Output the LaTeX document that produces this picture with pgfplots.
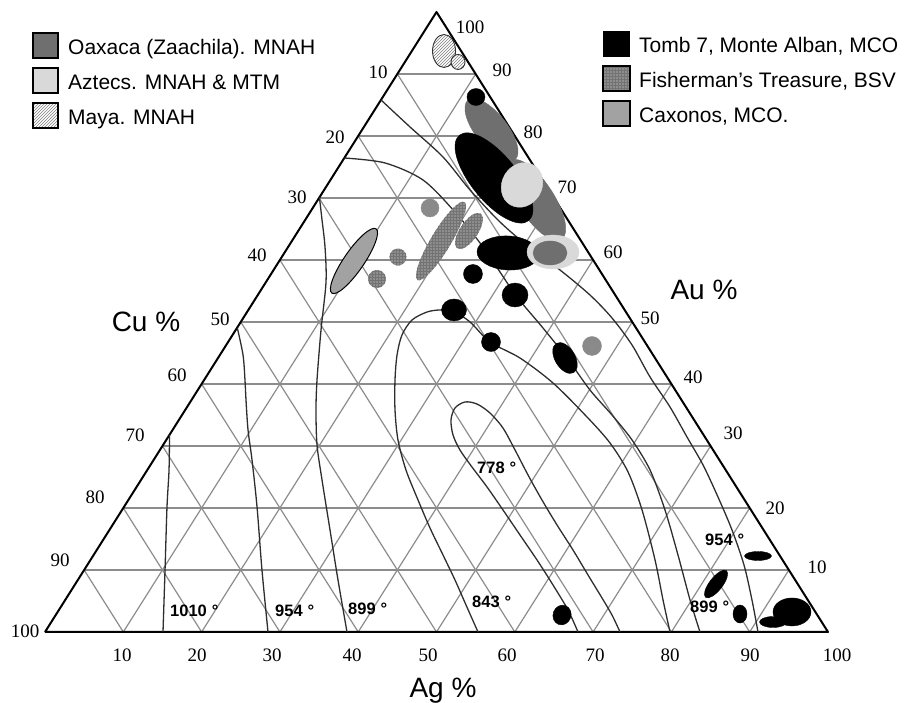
\documentclass[border=0pt]{standalone}
\usepackage{fontspec}
\setmainfont{Liberation Sans}
\newfontfamily\numfont{Liberation Serif}
\usepackage{pgfplots}
\pgfplotsset{compat=1.18}
\usetikzlibrary{patterns}

\definecolor{oaxaca}{HTML}{6F6F6F}
\definecolor{aztec}{HTML}{D9D9D9}
\definecolor{fisher}{HTML}{8E8E8E}
\definecolor{caxonos}{HTML}{A2A2A2}
\definecolor{gridgray}{HTML}{8C8C8C}
\definecolor{curve}{HTML}{2E2E2E}

\newcommand\legfont{\fontsize{21}{24}\selectfont}
\newcommand\tickfont{\numfont\fontsize{19}{21}\selectfont}
\newcommand\titfont{\fontsize{28}{30}\selectfont}
\newcommand\isofont{\bfseries\fontsize{16.5}{18}\selectfont}

\pgfdeclareplotmark{mayamark}{%
  \pgfpathcircle{\pgfpointorigin}{\pgfplotmarksize}%
  \pgfsetfillcolor{white}\pgfusepathqfill
  \begin{pgfscope}\pgfsetfillpattern{north east lines}{gray}%
  \pgfpathcircle{\pgfpointorigin}{\pgfplotmarksize}\pgfusepathqfill\end{pgfscope}%
  \pgfsetlinewidth{0.9pt}\pgfsetstrokecolor{black!80}%
  \pgfpathcircle{\pgfpointorigin}{\pgfplotmarksize}\pgfusepathqstroke}
\pgfdeclareplotmark{fishmark}{%
  \pgfpathcircle{\pgfpointorigin}{\pgfplotmarksize}%
  \pgfsetfillcolor{fisher}\pgfusepathqfill
  \begin{pgfscope}\pgfsetfillpattern{grid}{black!55}%
  \pgfpathcircle{\pgfpointorigin}{\pgfplotmarksize}\pgfusepathqfill\end{pgfscope}}

\pgfplotsset{
  gridline/.style={gridgray, line width=1.2pt, mark=none},
  iso/.style={curve, line width=1.3pt, mark=none, smooth, tension=0.5},
  blob/.style={only marks, mark=*, mark size=1pt},
}

\begin{document}
\begin{tikzpicture}
\begin{axis}[name=ax, scale only axis, width=913pt, height=703pt,
  xmin=-5.747, xmax=110.855, ymin=-11.452, ymax=101.935, hide axis, clip=false]
% grid: constant Au
\addplot[gridline] coordinates {(5,10)(95,10)};
\addplot[gridline] coordinates {(10,20)(90,20)};
\addplot[gridline] coordinates {(15,30)(85,30)};
\addplot[gridline] coordinates {(20,40)(80,40)};
\addplot[gridline] coordinates {(25,50)(75,50)};
\addplot[gridline] coordinates {(30,60)(70,60)};
\addplot[gridline] coordinates {(35,70)(65,70)};
\addplot[gridline] coordinates {(40,80)(60,80)};
\addplot[gridline] coordinates {(45,90)(55,90)};
% grid: constant Ag
\addplot[gridline] coordinates {(10,0)(55,90)};
\addplot[gridline] coordinates {(20,0)(60,80)};
\addplot[gridline] coordinates {(30,0)(65,70)};
\addplot[gridline] coordinates {(40,0)(70,60)};
\addplot[gridline] coordinates {(50,0)(75,50)};
\addplot[gridline] coordinates {(60,0)(80,40)};
\addplot[gridline] coordinates {(70,0)(85,30)};
\addplot[gridline] coordinates {(80,0)(90,20)};
\addplot[gridline] coordinates {(90,0)(95,10)};
% grid: constant Cu
\addplot[gridline] coordinates {(10,0)(5,10)};
\addplot[gridline] coordinates {(20,0)(10,20)};
\addplot[gridline] coordinates {(30,0)(15,30)};
\addplot[gridline] coordinates {(40,0)(20,40)};
\addplot[gridline] coordinates {(50,0)(25,50)};
\addplot[gridline] coordinates {(60,0)(30,60)};
\addplot[gridline] coordinates {(70,0)(35,70)};
\addplot[gridline] coordinates {(80,0)(40,80)};
\addplot[gridline] coordinates {(90,0)(45,90)};
% triangle
\addplot[black, line width=2pt, mark=none, line join=round] coordinates {(0,0)(100,0)(50,100)(0,0)};

% isotherms
\addplot[iso] coordinates {(15.07,0)(15.33,10)(15.58,20.16)(15.84,26.13)(15.9,31.8)};
\addplot[iso] coordinates {(28.48,0)(27.71,10)(27.08,20.16)(26.44,27.74)(25.93,32.58)(25.67,37.42)(25.54,40.65)(25.29,44.68)(24.55,49.1)};
\addplot[iso] coordinates {(38.57,0)(37.42,8.39)(36.40,16.45)(35.38,24.52)(34.74,30.16)(34.61,35.81)(34.74,40.65)(35.25,48.71)(35.89,56.45)(35.76,62.10)(35.38,66.45)(35.05,70.1)};
% 843
\addplot[iso] coordinates {(55.30,0)(53.77,4.35)(52.36,8.39)(50.83,12.42)(49.17,16.77)(47.64,21.29)(46.10,26.13)(45.08,30.97)(44.70,35.81)(44.70,40.65)(44.96,44.68)(45.59,47.90)(46.87,50.32)(48.79,51.61)(50.45,51.94)(52.11,51.77)(54.28,50.0)(56.83,46.77)(60.66,44.19)(64.88,40.16)(69.22,34.68)(72.16,30.48)(74.46,25.81)(76.25,19.68)(77.91,11.61)(78.93,5.16)(79.82,0)};
% 778
\addplot[iso] coordinates {(68.07,0)(66.79,3.55)(64.88,7.58)(62.84,11.61)(60.66,15.65)(58.49,19.68)(56.45,23.39)(54.53,26.61)(53.00,29.35)(52.11,31.77)(51.85,34.19)(52.36,36.13)(53.64,37.10)(55.17,36.77)(56.83,35.32)(58.49,32.90)(60.03,29.35)(61.69,25.32)(63.47,21.29)(65.39,17.26)(67.43,13.23)(69.35,9.19)(71.14,5.48)(72.41,2.74)(73.44,0)};
% 899 right
\addplot[iso] coordinates {(38.23,76.45)(43.42,75.65)(48.28,72.90)(52.36,67.74)(55.56,62.74)(58.11,58.06)(60.28,54.03)(63.60,49.03)(66.67,44.19)(69.60,39.03)(72.41,35.0)(74.97,30.97)(77.27,26.13)(79.18,19.68)(80.84,12.42)(82.38,5.16)(83.65,0)};
% 954 right
\addplot[iso] coordinates {(42.91,85.81)(46.62,81.45)(50.83,76.61)(54.28,71.29)(58.11,66.13)(61.94,61.94)(65.77,58.39)(69.60,54.35)(72.41,50.65)(74.97,46.29)(77.27,41.13)(79.82,36.29)(81.99,31.45)(84.04,26.94)(85.95,21.77)(87.74,16.45)(89.27,10.81)(90.29,5.16)(91.06,0)};

% Maya
\addplot[only marks, mark=mayamark, mark size=1pt, mark options={xscale=11.5,yscale=16.5}] coordinates {(50.96,93.71)};
\addplot[only marks, mark=mayamark, mark size=1pt, mark options={xscale=7,yscale=7.5}] coordinates {(52.75,91.94)};
% Oaxaca large
\addplot[blob, oaxaca, mark options={rotate=-52,xscale=38,yscale=16}] coordinates {(57.02,80.97)};
\addplot[blob, oaxaca, mark options={rotate=-57,xscale=47,yscale=18}] coordinates {(62.71,69.68)};
% Tomb 7 big
\addplot[blob, black, mark options={rotate=-51,xscale=55,yscale=23}] coordinates {(57.34,73.23)};
% Aztec on top
\addplot[blob, aztec, mark options={rotate=-30,xscale=20,yscale=23}] coordinates {(60.92,72.10)};
\addplot[blob, black, mark options={xscale=9,yscale=8.5}] coordinates {(55.04,86.29)};
% black horizontal and aztec/oaxaca group
\addplot[blob, black, mark options={rotate=-3,xscale=31,yscale=17}] coordinates {(59.13,61.13)};
\addplot[blob, aztec, mark options={xscale=26,yscale=17}] coordinates {(64.88,61.29)};
\addplot[blob, oaxaca, mark options={xscale=17,yscale=12}] coordinates {(64.50,61.13)};
% Caxonos
\addplot[blob, caxonos!85!black, mark options={xscale=9,yscale=9}] coordinates {(49.17,68.39)};
\addplot[blob, mark options={fill=caxonos, draw=black, line width=1pt, rotate=55.5, xscale=39, yscale=10}] coordinates {(39.46,59.84)};
\addplot[blob, caxonos!85!black, mark options={xscale=9.5,yscale=9.5}] coordinates {(69.86,46.13)};
% Fisherman's treasure
\addplot[only marks, mark=fishmark, mark size=1pt, mark options={xscale=8.5,yscale=8.5}] coordinates {(45.08,60.48)};
\addplot[only marks, mark=fishmark, mark size=1pt, mark options={xscale=9,yscale=9}] coordinates {(42.40,56.94)};
\addplot[only marks, mark=fishmark, mark size=1pt, mark options={rotate=59,xscale=45.5,yscale=10}] coordinates {(50.57,63.06)};
\addplot[only marks, mark=fishmark, mark size=1pt, mark options={rotate=56,xscale=21,yscale=9}] coordinates {(54.15,64.68)};
% Tomb 7 small
\addplot[blob, black, mark options={xscale=9.5,yscale=9.5}] coordinates {(54.66,57.74)};
\addplot[blob, black, mark options={xscale=13,yscale=12}] coordinates {(60.03,54.35)};
\addplot[blob, black, mark options={xscale=12.5,yscale=11}] coordinates {(52.24,51.94)};
\addplot[blob, black, mark options={xscale=9.5,yscale=9.5}] coordinates {(56.96,46.77)};
\addplot[blob, black, mark options={rotate=-59,xscale=17,yscale=10}] coordinates {(66.41,44.19)};
\addplot[blob, black, mark options={rotate=70,xscale=10,yscale=9}] coordinates {(66.03,2.74)};
\addplot[blob, black, mark options={xscale=13.5,yscale=4.5}] coordinates {(91.06,12.26)};
\addplot[blob, black, mark options={rotate=52,xscale=17,yscale=6.5}] coordinates {(85.70,7.74)};
\addplot[blob, black, mark options={xscale=7,yscale=9}] coordinates {(88.76,2.90)};
\addplot[blob, black, mark options={xscale=19,yscale=14}] coordinates {(95.40,3.23)};
\addplot[blob, black, mark options={xscale=13.5,yscale=5.5}] coordinates {(92.98,1.61)};
\end{axis}
\pgfresetboundingbox
\path[use as bounding box] (ax.south west) rectangle (ax.north east);
\begin{scope}[shift={(ax.north west)}, x=1pt, y=-1pt]
% legends
\fill[oaxaca] (33,33) rectangle (58,58); \draw[line width=1.3pt] (33,33) rectangle (58,58);
\fill[aztec] (33,68) rectangle (58,93); \draw[line width=1.3pt] (33,68) rectangle (58,93);
\fill[white] (33,103) rectangle (58,128);
\fill[pattern=north east lines, pattern color=gray] (33,103) rectangle (58,128);
\draw[line width=1.3pt] (33,103) rectangle (58,128);
\node[anchor=base west, inner sep=0pt, font=\legfont] at (68,55) {Oaxaca (Zaachila). MNAH};
\node[anchor=base west, inner sep=0pt, font=\legfont] at (68,90) {Aztecs. MNAH \& MTM};
\node[anchor=base west, inner sep=0pt, font=\legfont] at (68,125) {Maya. MNAH};
\fill[black] (603,31) rectangle (630,57);
\fill[fisher] (603,66) rectangle (630,91);
\fill[pattern=grid, pattern color=black!55] (603,66) rectangle (630,91);
\draw[line width=1.3pt] (603,66) rectangle (630,91);
\fill[caxonos] (603,101) rectangle (630,126); \draw[line width=1.3pt] (603,101) rectangle (630,126);
\node[anchor=base west, inner sep=0pt, font=\legfont] at (639,52.7) {Tomb 7, Monte Alban, MCO};
\node[anchor=base west, inner sep=0pt, font=\legfont] at (639,87.3) {Fisherman's Treasure, BSV};
\node[anchor=base west, inner sep=0pt, font=\legfont] at (639,122.3) {Caxonos, MCO.};
% ticks
\foreach \x/\l in {122/10,197/20,272/30,352/40,428/50,507/60,595/70,670/80,750/90,837/100}
  \node[anchor=base, inner sep=0pt, font=\tickfont] at (\x,662) {\l};
\foreach \x/\y/\l in {378/72/10,335/137/20,297/197/30,257/255/40,220/319/50,177/375/60,135/435/70,95/497/80,60/560/90,25/631/100}
  \node[inner sep=0pt, font=\tickfont] at (\x,\y) {\l};
\foreach \x/\y/\l in {470/27/100,502/70/90,533/132/80,567/187/70,613/252/60,650/318/50,693/377/40,733/433/30,775/508/20,817/567/10}
  \node[inner sep=0pt, font=\tickfont] at (\x,\y) {\l};
% axis titles
\node[anchor=base, inner sep=0pt, font=\titfont] at (146,332) {Cu \%};
\node[anchor=base, inner sep=0pt, font=\titfont] at (704,300) {Au \%};
\node[anchor=base, inner sep=0pt, font=\titfont] at (443,698) {Ag \%};
% isotherm labels
\foreach \x/\y/\l in {170/617/1010,275/617/954,348/615/899,472/608/843,477/474/778,705/546/954,690/613/899}
  \node[anchor=base west, inner sep=0pt, font=\isofont] at (\x,\y) {\l\hspace{0.3em}°};
\end{scope}
\end{tikzpicture}
\end{document}
